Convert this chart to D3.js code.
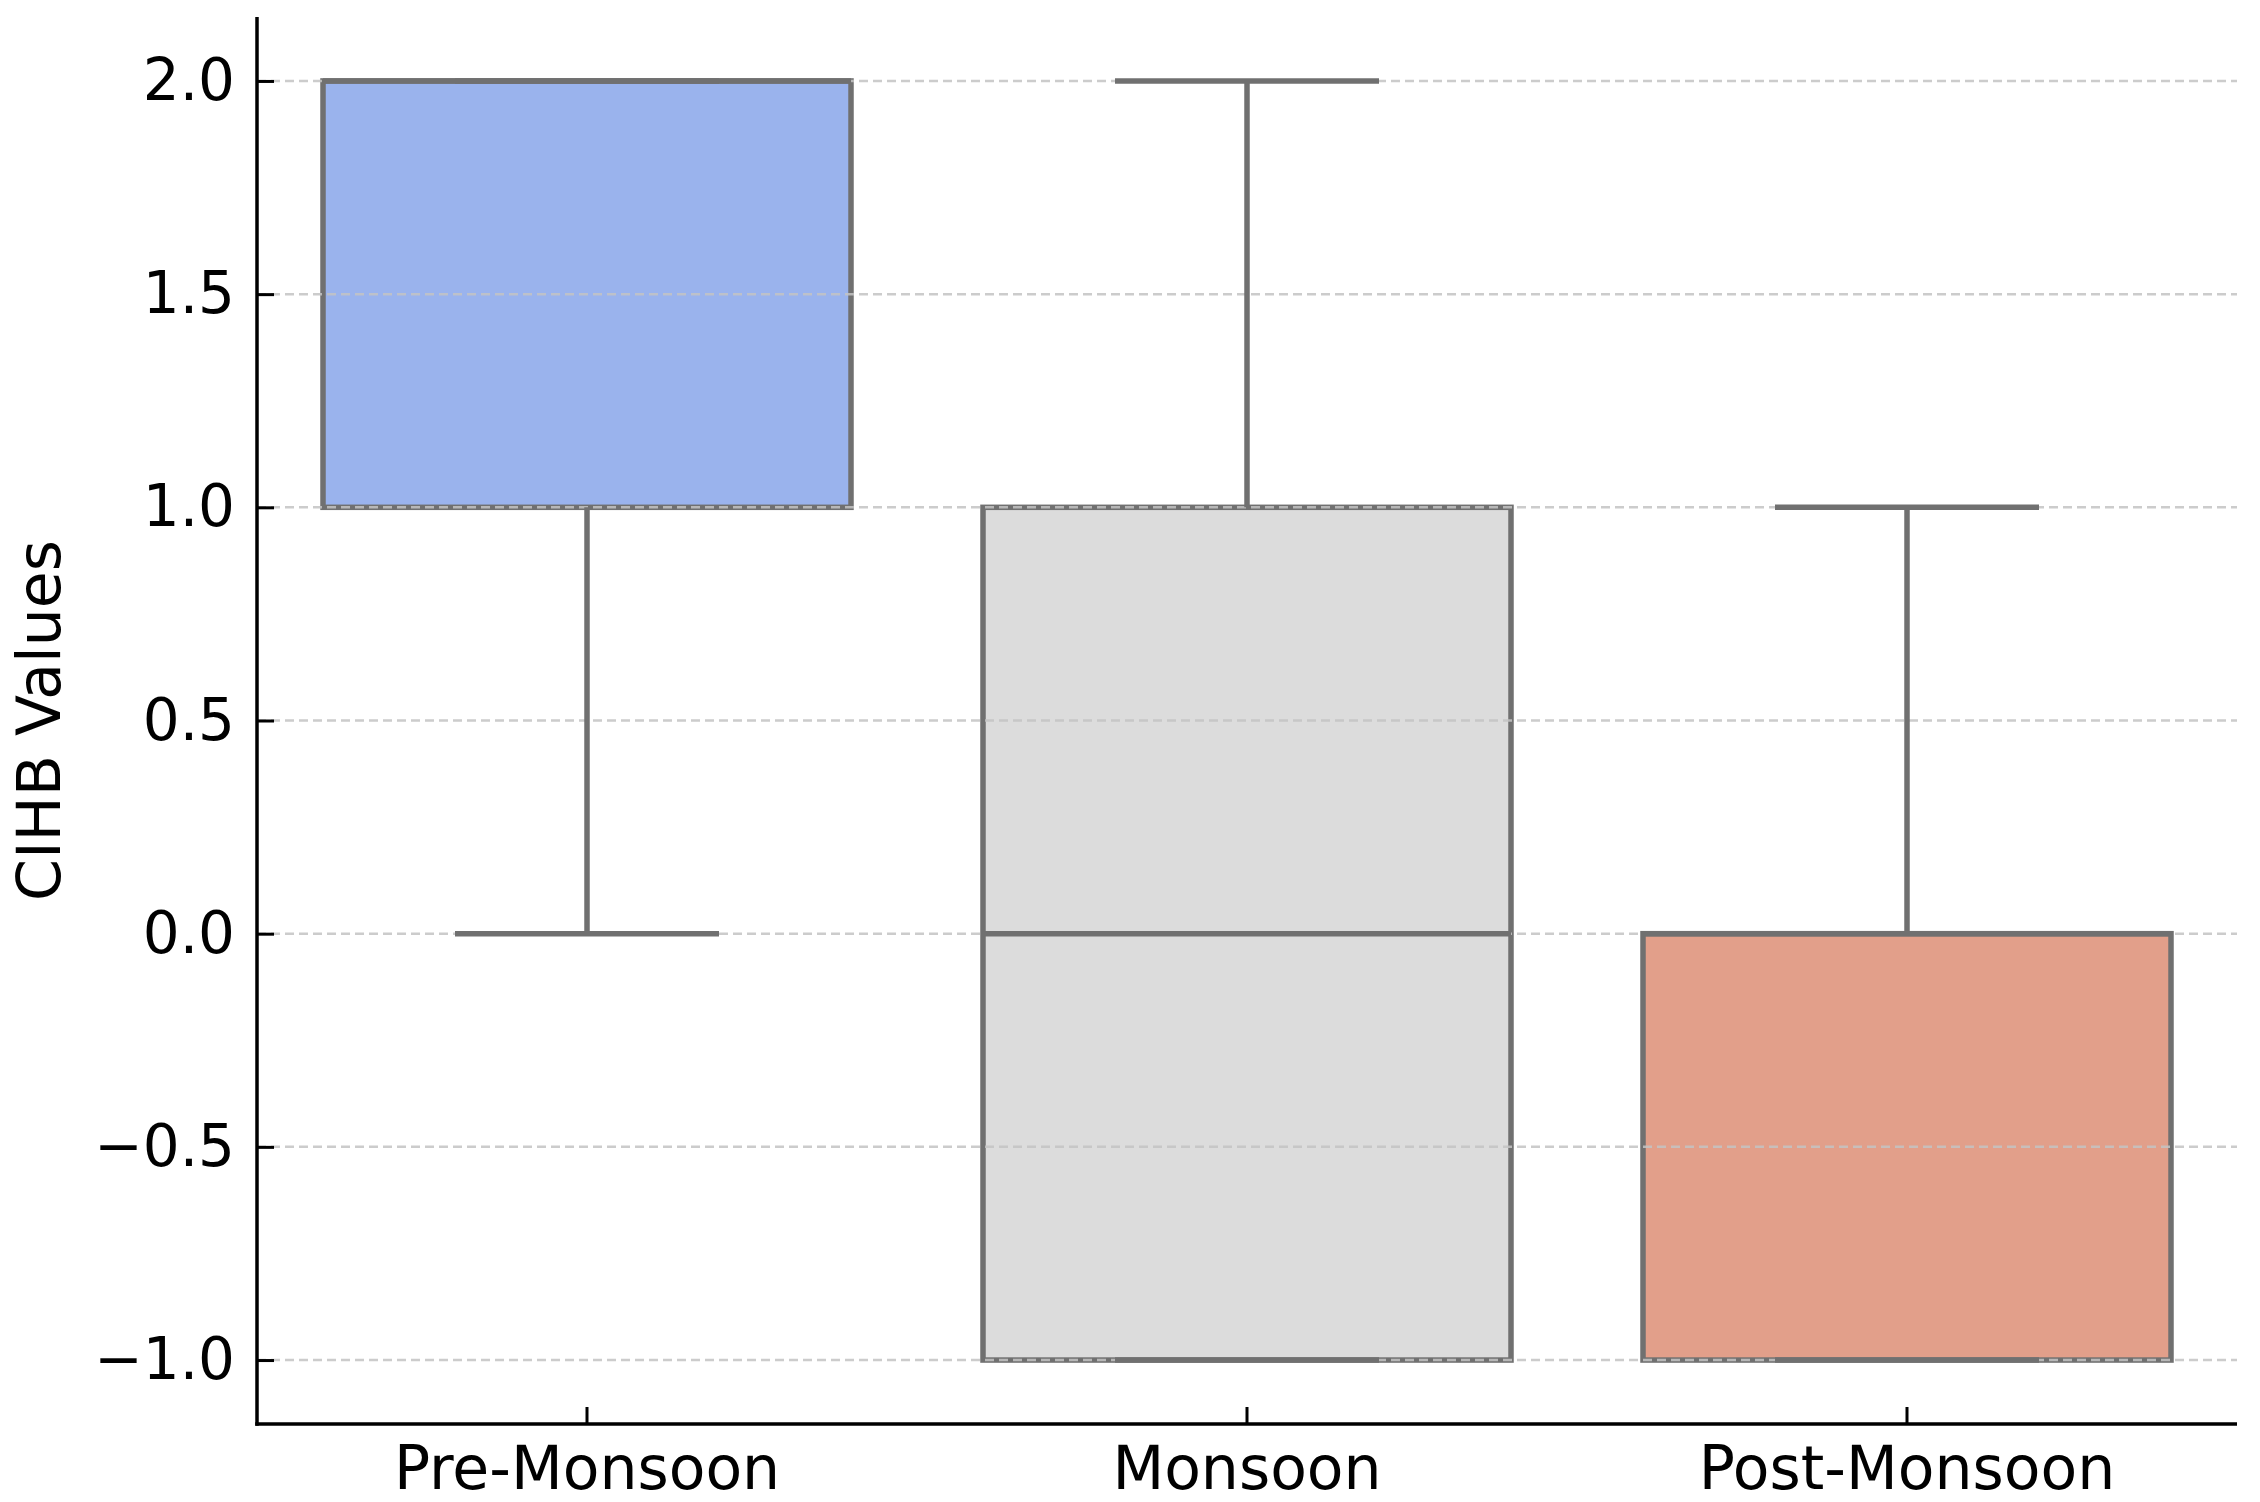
<!DOCTYPE html>
<html>
<head>
<meta charset="utf-8">
<script src="https://cdn.jsdelivr.net/npm/d3@7"></script>
<style>
  html, body { margin: 0; padding: 0; background: #ffffff; }
  svg { display: block; }
  text { font-family: "DejaVu Sans", sans-serif; fill: #000; }
</style>
</head>
<body>
<script>
// ---- data ----
const categories = ["Pre-Monsoon", "Monsoon", "Post-Monsoon"];
const whiskerLow = [0, -1, -1];
const q1Values = [1, -1, -1];
const medianValues = [2, 0, 0];
const q3Values = [2, 1, 0];
const whiskerHigh = [2, 2, 1];
const boxColors = ["#9ab3ed", "#dcdcdc", "#e29f8a"];
const yTicks = [-1.0, -0.5, 0.0, 0.5, 1.0, 1.5, 2.0];
const yLabel = "CIHB Values";

// ---- layout ----
const W = 2260, H = 1502;
const mLeft = 257, mRight = 2237, mTop = 17, mBottom = 1424;
const fontSize = 58;
const xFontSize = 60;
const lineColor = "#707070";
const lw = 5.5;

const svg = d3.select("body").append("svg").attr("width", W).attr("height", H);

const x = d3.scaleBand().domain(categories).range([mLeft, mRight]).paddingInner(0.2).paddingOuter(0.1);
const y = d3.scaleLinear().domain([-1.15, 2.15]).range([mBottom, mTop]);

const stats = categories.map((c, i) => ({
  cat: c, lo: whiskerLow[i], q1: q1Values[i], med: medianValues[i], q3: q3Values[i], hi: whiskerHigh[i], color: boxColors[i]
}));

// boxes
const g = svg.append("g");
g.selectAll("rect.box").data(stats).enter().append("rect")
  .attr("x", d => x(d.cat))
  .attr("width", x.bandwidth())
  .attr("y", d => y(d.q3))
  .attr("height", d => y(d.q1) - y(d.q3))
  .attr("fill", d => d.color)
  .attr("stroke", lineColor)
  .attr("stroke-width", lw);

// grid (drawn over boxes, faint)
svg.append("g").selectAll("line").data(yTicks).enter().append("line")
  .attr("x1", mLeft).attr("x2", mRight)
  .attr("y1", d => y(d)).attr("y2", d => y(d))
  .attr("stroke", "#c4c4c4").attr("stroke-width", 2.5)
  .attr("stroke-dasharray", "9,5").attr("opacity", 0.85);

// whiskers, caps, medians
const wg = svg.append("g").attr("stroke", lineColor).attr("stroke-width", lw).attr("fill", "none");
stats.forEach(d => {
  const cx = x(d.cat) + x.bandwidth() / 2;
  const capHalf = x.bandwidth() / 4;
  if (d.q1 > d.lo) wg.append("line").attr("x1", cx).attr("x2", cx).attr("y1", y(d.q1)).attr("y2", y(d.lo));
  if (d.hi > d.q3) wg.append("line").attr("x1", cx).attr("x2", cx).attr("y1", y(d.q3)).attr("y2", y(d.hi));
  wg.append("line").attr("x1", cx - capHalf).attr("x2", cx + capHalf).attr("y1", y(d.lo)).attr("y2", y(d.lo));
  wg.append("line").attr("x1", cx - capHalf).attr("x2", cx + capHalf).attr("y1", y(d.hi)).attr("y2", y(d.hi));
  wg.append("line").attr("x1", x(d.cat)).attr("x2", x(d.cat) + x.bandwidth()).attr("y1", y(d.med)).attr("y2", y(d.med));
});

// axes
const fmt = v => (v < 0 ? "\u2212" : "") + Math.abs(v).toFixed(1);
const yAxis = svg.append("g").attr("transform", `translate(${mLeft},0)`)
  .call(d3.axisLeft(y).tickValues(yTicks).tickFormat(fmt).tickSizeInner(-17).tickSizeOuter(0).tickPadding(22));
yAxis.select(".domain").remove();
yAxis.selectAll(".tick line").attr("stroke", "#000").attr("stroke-width", 3);
yAxis.selectAll(".tick text").attr("font-size", fontSize).attr("font-family", "DejaVu Sans").attr("fill", "#000");

const xAxis = svg.append("g").attr("transform", `translate(0,${mBottom})`)
  .call(d3.axisBottom(x).tickSizeInner(-17).tickSizeOuter(0).tickPadding(22));
xAxis.select(".domain").remove();
xAxis.selectAll(".tick line").attr("stroke", "#000").attr("stroke-width", 3);
xAxis.selectAll(".tick text").attr("font-size", xFontSize).attr("font-family", "DejaVu Sans").attr("fill", "#000");

// spines
svg.append("line").attr("x1", mLeft).attr("x2", mLeft).attr("y1", mTop).attr("y2", mBottom + 1.75)
  .attr("stroke", "#000").attr("stroke-width", 3.5);
svg.append("line").attr("x1", mLeft - 1.75).attr("x2", mRight).attr("y1", mBottom).attr("y2", mBottom)
  .attr("stroke", "#000").attr("stroke-width", 3.5);

// y label
svg.append("text")
  .attr("transform", `translate(39,${(mTop + mBottom) / 2}) rotate(-90)`)
  .attr("text-anchor", "middle").attr("dominant-baseline", "central")
  .attr("font-size", xFontSize)
  .text(yLabel);
</script>
</body>
</html>
